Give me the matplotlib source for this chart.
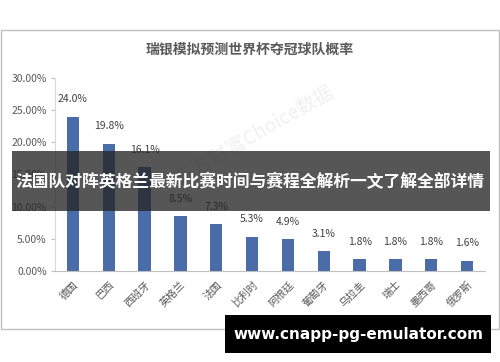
import matplotlib.pyplot as plt
from matplotlib.patches import Rectangle

plt.rcParams['font.family'] = ['Noto Sans CJK SC', 'DejaVu Sans']

teams = ['德国', '巴西', '西班牙', '英格兰', '法国', '比利时', '阿根廷', '葡萄牙', '乌拉圭', '瑞士', '墨西哥', '俄罗斯']
probs = [24.0, 19.8, 16.1, 8.5, 7.3, 5.3, 4.9, 3.1, 1.8, 1.8, 1.8, 1.6]
yticks = [0, 5, 10, 15, 20, 25, 30]
title = '瑞银模拟预测世界杯夺冠球队概率'
banner = '法国队对阵英格兰最新比赛时间与赛程全解析一文了解全部详情'
site = 'www.cnapp-pg-emulator.com'

W, H = 500, 362
fig = plt.figure(figsize=(W / 100, H / 100), dpi=100)
fig.patch.set_facecolor('white')

def box(x0, y0, x1, y1):
    # pixel box (top-left origin) -> figure fraction
    return [x0 / W, 1 - y1 / H, (x1 - x0) / W, (y1 - y0) / H]

# chart frame, behind the axes
frame = Rectangle((0.5 / W, 1 - 329 / H), 498.5 / W, 299 / H, transform=fig.transFigure,
                  facecolor='white', edgecolor='#bfbfbf', lw=1, zorder=-5)
fig.patches.append(frame)

# faint watermark
fig.text(255 / W, 1 - 135 / H, '东方财富Choice数据', ha='center', va='center', fontsize=14,
         color='#f0f0f0', rotation=30, zorder=-4)

ax = fig.add_axes(box(55, 78, 485, 271))
x = range(len(teams))
ax.bar(x, probs, width=0.34, color='#4a6ca8')
for i, v in zip(x, probs):
    ax.annotate(f'{v:.1f}%', (i, v), xytext=(0, 9), textcoords='offset points',
                ha='center', va='bottom', fontsize=7.5, color='#404040')
ax.set_xlim(-0.5, len(teams) - 0.5)
ax.set_ylim(0, 30)
ax.set_yticks(yticks)
ax.set_yticklabels([f'{t:.2f}%' for t in yticks], fontsize=7.5, color='#595959')
ax.set_xticks(list(x))
ax.set_xticklabels(teams, rotation=45, ha='right', rotation_mode='anchor', fontsize=7.5, color='#595959')
ax.tick_params(axis='x', length=0, pad=6)
ax.tick_params(axis='y', length=3, color='#bfbfbf', pad=3)
for s in ['top', 'right']:
    ax.spines[s].set_visible(False)
ax.spines['left'].set_color('#d9d9d9')
ax.spines['bottom'].set_color('#bfbfbf')
ax.set_facecolor('none')

fig.text(250 / W, 1 - 50 / H, title, ha='center', va='center', fontsize=10,
         fontweight='bold', color='#595959')

# banner overlay
fig.patches.append(Rectangle((12 / W, 1 - 211 / H), 478 / W, 60 / H, transform=fig.transFigure,
                             facecolor='#262626', alpha=0.78, edgecolor='none', zorder=5))
fig.text(250 / W, 1 - 182 / H, banner, ha='center', va='center', fontsize=12.1,
         fontweight='bold', color='white', zorder=6)

# site box
fig.patches.append(Rectangle((225 / W, 1 - 353 / H), 266 / W, 38 / H, transform=fig.transFigure,
                             facecolor='black', edgecolor='none', zorder=5))
fig.text(358 / W, 1 - 334 / H, site, ha='center', va='center', fontsize=11,
         fontweight='bold', color='white', zorder=6, family='DejaVu Sans')

fig.savefig('out.png', dpi=100)
